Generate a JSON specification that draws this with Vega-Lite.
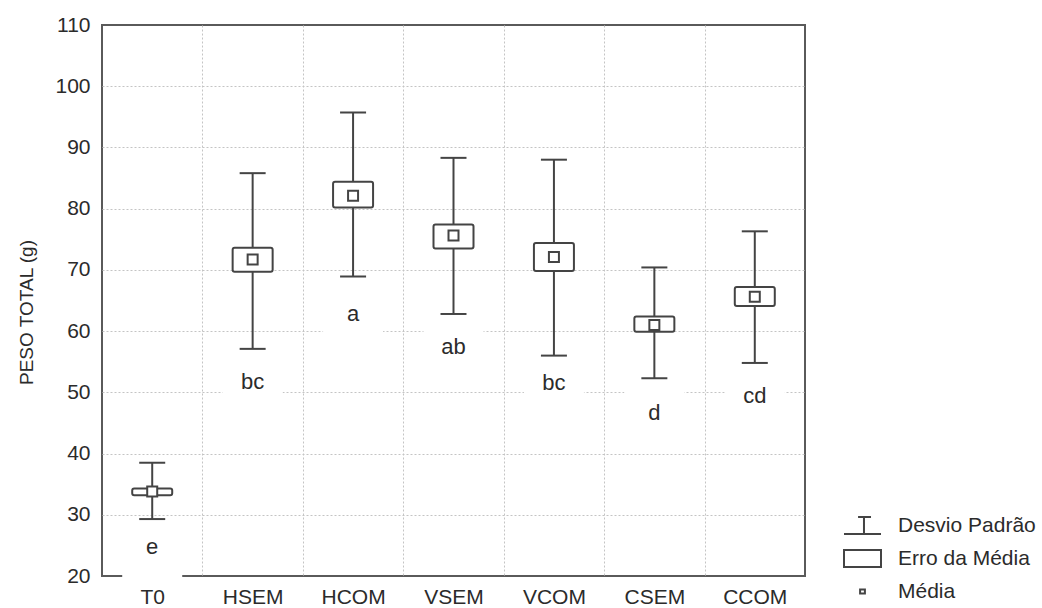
{
  "$schema": "https://vega.github.io/schema/vega-lite/v6.json",
  "width": 703,
  "height": 551,
  "autosize": "none",
  "padding": {"left": 102, "top": 25, "right": 237, "bottom": 32},
  "background": "white",
  "config": {
    "view": {"stroke": "#5a5a5a", "strokeWidth": 2},
    "font": "Liberation Sans",
    "axis": {
      "domain": false,
      "ticks": false,
      "gridColor": "#c4c4c4",
      "gridDash": [2, 2],
      "gridWidth": 1,
      "labelFont": "Liberation Sans",
      "labelFontSize": 21,
      "labelColor": "#2b2b2b",
      "titleFont": "Liberation Sans"
    }
  },
  "data": {
    "values": [
      {"trat": "T0", "media": 33.8, "dp_min": 29.3, "dp_max": 38.5, "ep_min": 33.2, "ep_max": 34.3, "letra": "e", "y_letra": 24.7},
      {"trat": "HSEM", "media": 71.7, "dp_min": 57.1, "dp_max": 85.8, "ep_min": 69.7, "ep_max": 73.6, "letra": "bc", "y_letra": 51.7},
      {"trat": "HCOM", "media": 82.1, "dp_min": 68.9, "dp_max": 95.7, "ep_min": 80.2, "ep_max": 84.4, "letra": "a", "y_letra": 62.8},
      {"trat": "VSEM", "media": 75.6, "dp_min": 62.8, "dp_max": 88.3, "ep_min": 73.5, "ep_max": 77.4, "letra": "ab", "y_letra": 57.4},
      {"trat": "VCOM", "media": 72.1, "dp_min": 56.0, "dp_max": 88.0, "ep_min": 69.8, "ep_max": 74.4, "letra": "bc", "y_letra": 51.6},
      {"trat": "CSEM", "media": 61.0, "dp_min": 52.3, "dp_max": 70.4, "ep_min": 59.9, "ep_max": 62.4, "letra": "d", "y_letra": 46.6},
      {"trat": "CCOM", "media": 65.6, "dp_min": 54.8, "dp_max": 76.3, "ep_min": 64.1, "ep_max": 67.2, "letra": "cd", "y_letra": 49.4}
    ]
  },
  "encoding": {
    "x": {
      "field": "trat", "type": "nominal",
      "scale": {"domain": ["T0", "HSEM", "HCOM", "VSEM", "VCOM", "CSEM", "CCOM"], "paddingInner": 0, "paddingOuter": 0},
      "axis": {
        "title": null, "labelAngle": 0, "labelPadding": 10, "grid": true, "tickBand": "extent",
        "gridOpacity": {"condition": {"test": "datum.extra || datum.value == 'CCOM'", "value": 0}, "value": 1}
      }
    },
    "y": {
      "type": "quantitative",
      "scale": {"domain": [20, 110], "nice": false, "zero": false},
      "axis": {
        "values": [20, 30, 40, 50, 60, 70, 80, 90, 100, 110],
        "grid": true,
        "gridOpacity": {"condition": {"test": "datum.value == 20 || datum.value == 110", "value": 0}, "value": 1},
        "labelPadding": 12,
        "title": "PESO TOTAL (g)",
        "titleFontSize": 19,
        "titleFontWeight": "normal",
        "titleColor": "#2b2b2b",
        "titleAngle": 270,
        "titleAlign": "center",
        "titleBaseline": "middle",
        "titleX": -76,
        "titleY": 287
      }
    }
  },
  "layer": [
    {
      "mark": {"type": "point", "shape": "square", "size": 3600, "filled": true, "color": "white", "opacity": 1, "strokeWidth": 0},
      "encoding": {"y": {"field": "y_letra"}}
    },
    {
      "mark": {"type": "rule", "color": "#444", "strokeWidth": 2},
      "encoding": {"y": {"field": "dp_min"}, "y2": {"field": "dp_max"}}
    },
    {
      "mark": {"type": "tick", "color": "#444", "size": 26, "thickness": 2, "opacity": 1},
      "encoding": {"y": {"field": "dp_max"}}
    },
    {
      "mark": {"type": "tick", "color": "#444", "size": 26, "thickness": 2, "opacity": 1},
      "encoding": {"y": {"field": "dp_min"}}
    },
    {
      "mark": {"type": "bar", "width": 40, "fill": "white", "stroke": "#444", "strokeWidth": 2, "cornerRadius": 2},
      "encoding": {"y": {"field": "ep_min"}, "y2": {"field": "ep_max"}}
    },
    {
      "mark": {"type": "point", "shape": "square", "size": 100, "filled": false, "fill": "white", "stroke": "#444", "strokeWidth": 2, "opacity": 1},
      "encoding": {"y": {"field": "media"}}
    },
    {
      "mark": {"type": "text", "fontSize": 22, "baseline": "middle", "align": "center", "color": "#2b2b2b", "font": "Liberation Sans"},
      "encoding": {"y": {"field": "y_letra"}, "text": {"field": "letra"}}
    },
    {
      "data": {"values": [{"item": "Desvio Padrão"}, {"item": "Erro da Média"}, {"item": "Média"}]},
      "transform": [{"filter": "false"}],
      "mark": {"type": "point", "filled": false, "color": "#444", "strokeWidth": 2, "opacity": 1},
      "encoding": {
        "x": null,
        "y": null,
        "shape": {
          "field": "item", "type": "nominal",
          "scale": {
            "domain": ["Desvio Padrão", "Erro da Média", "Média"],
            "range": ["M-0.24,-0.46H0.46M0.08,-0.46V0.46M-1,0.46H1", "M-1,-0.46H1V0.46H-1Z", "M-0.13,-0.11H0.13V0.11H-0.13Z"]
          },
          "legend": {
            "orient": "none", "legendX": 741, "legendY": 481, "title": null,
            "symbolSize": 1369, "symbolStrokeWidth": 2,
            "labelFont": "Liberation Sans", "labelFontSize": 21, "labelColor": "#2b2b2b", "labelOffset": 16, "labelLimit": 300,
            "rowPadding": -3, "padding": 0
          }
        }
      }
    }
  ]
}
